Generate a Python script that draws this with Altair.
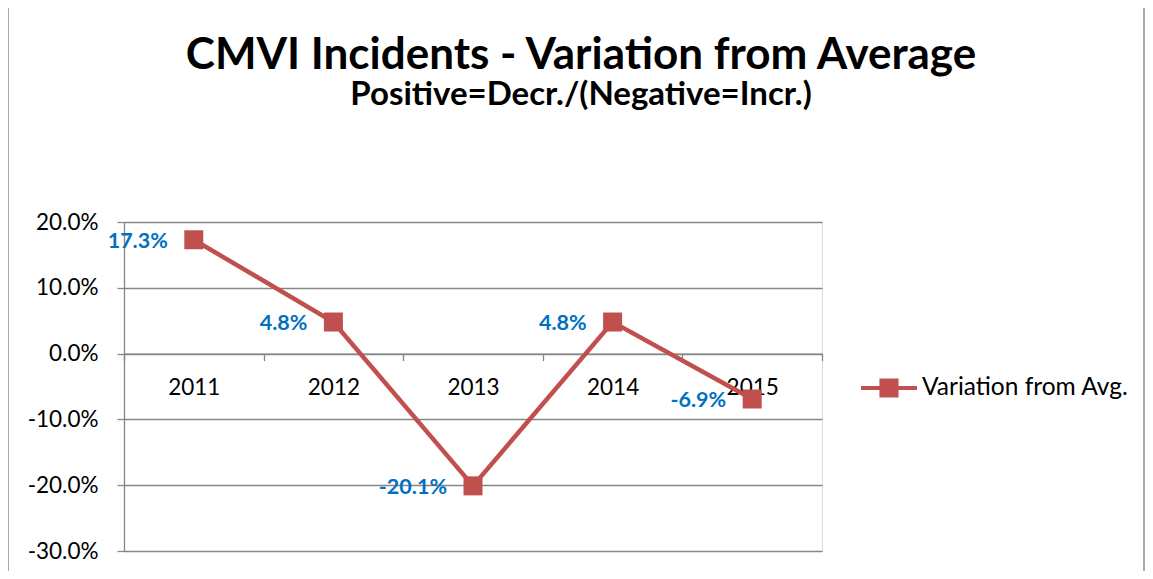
import altair as alt
import pandas as pd

years = ["2011", "2012", "2013", "2014", "2015"]
variation = [0.173, 0.048, -0.201, 0.048, -0.069]
series_name = "Variation from Avg."

df = pd.DataFrame({"year": years, "value": variation, "series": [series_name] * len(years)})

RED = "#C0504D"
BLUE = "#0070C0"
GRID = "#868686"
FONT = "Lato"

W, H = 698, 329
PAD = {"left": 116, "top": 214, "right": 323, "bottom": 20}

x_enc = alt.X(
    "year:N",
    sort=years,
    scale=alt.Scale(type="band", paddingInner=0, paddingOuter=0),
    axis=alt.Axis(
        title=None, orient="bottom", offset=-H * 30 / 50, tickBand="extent",
        grid=False, domainColor=GRID, domainWidth=1.3, tickColor=GRID, tickWidth=1.3,
        tickSize=7, labelPadding=16, labelFont=FONT, labelFontSize=22.5, labelColor="#000",
        labelAngle=0,
    ),
)
y_enc = alt.Y(
    "value:Q",
    scale=alt.Scale(domain=[-0.3, 0.2], nice=False, zero=False),
    axis=alt.Axis(
        title=None, format=".1%", values=[-0.3, -0.2, -0.1, 0, 0.1, 0.2],
        labelExpr="replace(datum.label, '\u2212', '-')",
        grid=True, gridColor=GRID, gridWidth=1.3, domainColor=GRID, domainWidth=1.3,
        tickColor=GRID, tickWidth=1.3, tickSize=7, labelPadding=19,
        labelFont=FONT, labelFontSize=22.5, labelColor="#000",
    ),
)

legend_path = "M-1,0L1,0M-0.27,-0.27L0.27,-0.27L0.27,0.27L-0.27,0.27Z"

line = alt.Chart(df).mark_line(strokeWidth=4.5, strokeCap="round").encode(
    x=x_enc,
    y=y_enc,
    color=alt.Color(
        "series:N",
        scale=alt.Scale(range=[RED]),
        legend=alt.Legend(
            title=None, orient="none", legendX=735, legendY=136, padding=0,
            symbolType=legend_path, symbolSize=3136, symbolStrokeWidth=4,
            symbolFillColor=RED, symbolStrokeColor=RED,
            labelFont=FONT, labelFontSize=24.5, labelColor="#000", labelOffset=3,
            labelLimit=400,
        ),
    ),
)

points = alt.Chart(df).mark_point(shape="square", filled=True, size=361, color=RED, opacity=1).encode(
    x=alt.X("year:N", sort=years),
    y=alt.Y("value:Q"),
)

labels = alt.Chart(df).transform_calculate(
    label="replace(format(datum.value, '.1%'), '\u2212', '-')"
).mark_text(
    align="right", baseline="middle", dx=-26, dy=2, font=FONT, fontSize=21.5,
    fontWeight="bold", color=BLUE,
).encode(
    x=alt.X("year:N", sort=years),
    y=alt.Y("value:Q"),
    text="label:N",
)

border_l = alt.Chart(pd.DataFrame({"side": [0]})).mark_rule(color="#8C8C8C", strokeWidth=1.5).encode(
    x=alt.value(-116), y=alt.value(-214), y2=alt.value(H + 20),
)
border_r = alt.Chart(pd.DataFrame({"side": [0]})).mark_rule(color="#8C8C8C", strokeWidth=1.5).encode(
    x=alt.value(1020), y=alt.value(-214), y2=alt.value(H + 20),
)

chart = alt.layer(border_l, border_r, line, points, labels).properties(
    width=W, height=H,
    autosize=alt.AutoSizeParams(type="none"),
    padding=PAD,
    title=alt.TitleParams(
        text="CMVI Incidents - Variation from Average",
        subtitle="Positive=Decr./(Negative=Incr.)",
        anchor="middle", frame="group", dx=108, offset=-105,
        font=FONT, fontSize=44, fontWeight="bold", color="#000",
        subtitleFont=FONT, subtitleFontSize=33, subtitleFontWeight="bold",
        subtitleColor="#000", subtitlePadding=1,
    ),
).configure_view(stroke=None).configure(background="white")

chart.save("out.html", embed_options={"renderer": "svg", "actions": False})
